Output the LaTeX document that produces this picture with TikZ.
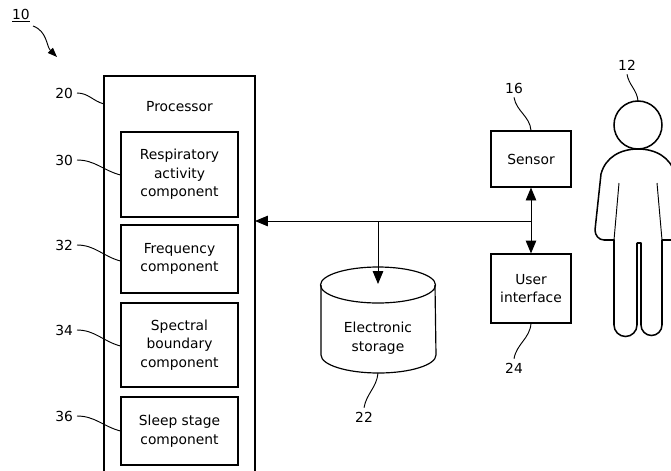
\documentclass[tikz,border=0pt]{standalone}
\usepackage{fontspec}
\setmainfont{DejaVu Sans}
\usetikzlibrary{arrows.meta}

\begin{document}
\begin{tikzpicture}[x=0.03cm, y=0.03cm,
    font=\fontsize{11.8}{15.7}\selectfont,
    box/.style={draw, line width=1pt, align=center, inner sep=0pt},
    leader/.style={line width=0.8pt},
    arr/.style={line width=0.8pt, -{Triangle[length=11pt,width=9pt]}},
    person/.style={line width=1.3pt, line join=round}]
    \useasboundingbox (0,0) rectangle (671,-470);
    \clip (0,0) rectangle (671,-470);

    % 绘制处理器
    \draw[line width=1pt] (104,-475) -- (104,-76) -- (255,-76) -- (255,-475);
    \node (proctitle) at (179.5,-107) {Processor};
    \coordinate (procin) at (255,-221);

    % 处理器内的组件
    \node[box, minimum width=117*0.03cm, minimum height=85*0.03cm] (resp) at (179.5,-174.5) {Respiratory\\activity\\component};
    \node[box, minimum width=117*0.03cm, minimum height=68*0.03cm] (freq) at (179.5,-259) {Frequency\\component};
    \node[box, minimum width=117*0.03cm, minimum height=84*0.03cm] (spec) at (179.5,-345) {Spectral\\boundary\\component};
    \node[box, minimum width=117*0.03cm, minimum height=68*0.03cm] (sleep) at (179.5,-431) {Sleep stage\\component};

    % 传感器和用户界面
    \node[box, minimum width=80*0.03cm, minimum height=56*0.03cm] (sensor) at (531,-159) {Sensor};
    \node[box, minimum width=80*0.03cm, minimum height=69*0.03cm] (ui) at (531,-288.5) {User\\interface};

    % 电子存储
    \draw[line width=1pt] (321,-285) -- (321,-355) arc[start angle=180, end angle=360, x radius=57.5, y radius=18] -- (435,-285);
    \draw[line width=1pt] (378,-285) ellipse[x radius=57.5, y radius=18];
    \node[align=center] (storage) at (378,-338) {Electronic\\storage};
    \coordinate (storetop) at (378,-284);
    \coordinate (storebot) at (378,-373);

    % 连接
    \coordinate (junc) at (531,-221);
    \coordinate (branch) at (378,-221);
    \draw[arr] (junc) -- (procin);
    \draw[arr] (junc) -- (sensor.south);
    \draw[arr] (junc) -- (ui.north);
    \draw[arr] (branch) -- (storetop);

    % 用户
    \draw[person] (638,-125) circle[radius=24];
    \draw[person] (638,-149) to[out=180,in=75] (601,-174) -- (595,-230)
        to[out=-90,in=180] (604,-240) -- (614,-240) -- (614,-325)
        arc[start angle=180, end angle=360, radius=11.5] -- (637,-243) -- (641,-243) -- (641,-325)
        arc[start angle=180, end angle=360, radius=10.5] -- (662,-240) -- (672,-240)
        to[out=0,in=-90] (681,-230) -- (675,-174) to[out=105,in=0] (638,-149);
    \draw[leader] (619,-183) -- (614,-240);
    \draw[leader] (657,-183) -- (662,-240);
    \coordinate (headtop) at (638,-101);

    % 标记编号
    \node (n10) at (21,-16) {\underline{10}};
    \node[anchor=east] (n20) at (77,-93) {20};
    \node[anchor=east] (n30) at (77,-160) {30};
    \node[anchor=east] (n32) at (77,-245) {32};
    \node[anchor=east] (n34) at (77,-330) {34};
    \node[anchor=east] (n36) at (77,-416) {36};
    \node (n16) at (514,-88) {16};
    \node (n12) at (627,-65) {12};
    \node (n24) at (514,-368) {24};
    \node (n22) at (364,-417) {22};
    \coordinate (procedge) at (104,-104);

    % 引线
    \draw[line width=0.8pt, -{Triangle[length=8pt,width=6pt]}] (33,-26) to[out=-20,in=135] (57,-57);
    \draw[leader] (n20.east) to[out=0,in=165] (procedge);
    \draw[leader] (n30.east) to[out=0,in=165] (resp.west |- 0,-175);
    \draw[leader] (n32.east) to[out=0,in=165] (freq.west |- 0,-261);
    \draw[leader] (n34.east) to[out=0,in=165] (spec.west |- 0,-346);
    \draw[leader] (n36.east) to[out=0,in=165] (sleep.west |- 0,-431);
    \draw[leader] (n16.south) to[out=-80,in=95] (sensor.north);
    \draw[leader] (n12.south) to[out=-80,in=95] (headtop);
    \draw[leader] (ui.south) to[out=-95,in=80] (n24.north);
    \draw[leader] (storebot) to[out=-95,in=80] (n22.north);
\end{tikzpicture}
\end{document}
